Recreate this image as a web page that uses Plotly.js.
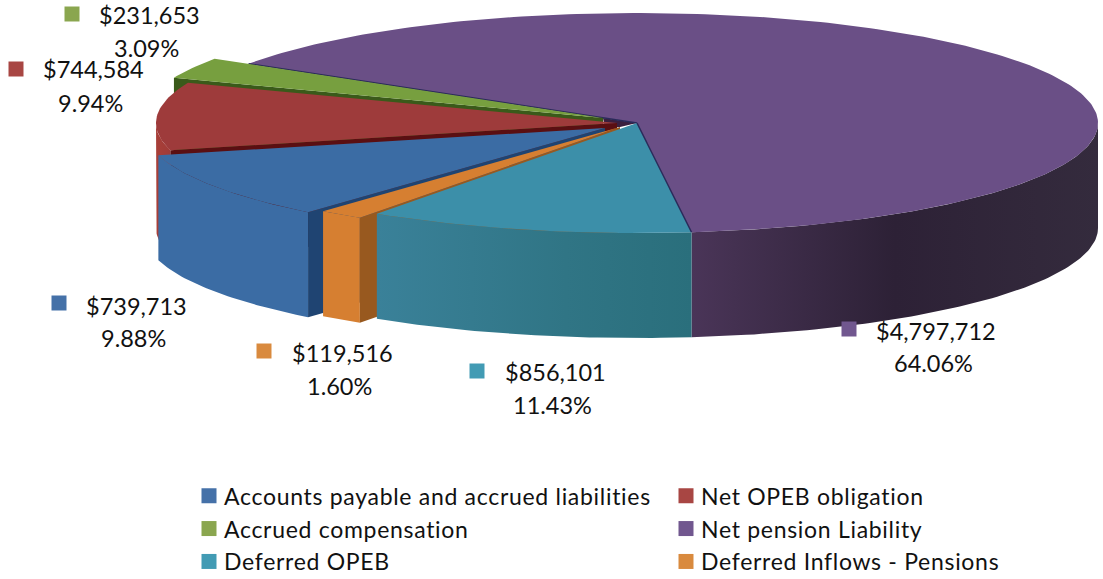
<!DOCTYPE html>
<html>
<head>
<meta charset="utf-8">
<script src="https://cdn.plot.ly/plotly-3.0.1.min.js"></script>
<style>
html,body{margin:0;padding:0;background:#fff}#chart{width:1103px;height:579px}
.legendtext,.legend2text{letter-spacing:0.7px;transform:translateX(-5px)}
</style>
</head>
<body>
<div id="chart"></div>
<script>
// ---- data (clockwise from the first slice) ----
const categories = ['Accounts payable and accrued liabilities','Net OPEB obligation','Accrued compensation','Net pension Liability','Deferred OPEB','Deferred Inflows - Pensions'];
const values = [739713, 744584, 231653, 4797712, 856101, 119516];
const amountLabels = ['$739,713','$744,584','$231,653','$4,797,712','$856,101','$119,516'];
const percentLabels = ['9.88%','9.94%','3.09%','64.06%','11.43%','1.60%'];

// ---- style / layout ----
const topColors  = ['#3b6ca4','#9e3b3b','#779f3f','#6a4f86','#3c8fa9','#d67f31'];
const keyColors  = ['#4571a8','#a84643','#8aa64f','#71578f','#429bb4','#d98a3e'];
const faceColors = ['#1f4472','#5a0f12','#3a5a1a','#2a2a5a','#2c6b7d','#98591f'];
const wallScales = [
  [[0,'#3b6ca4'],[1,'#3b6ca4']],
  [[0,'#a83f38'],[1,'#a03b38']],
  [[0,'#5a7a2a'],[1,'#5a7a2a']],
  [[0,'#4a3558'],[0.5,'#2d2136'],[1,'#342b3d']],
  [[0,'#3a8199'],[0.6,'#307585'],[1,'#2a6f7c']],
  [[0,'#d67f31'],[1,'#d67f31']]
];
const centers = [[605,128],[617,123],[603,118],[637,123],[637,123],[620,127]];
const hub = [[603,118],[637,123],[620,127],[605,128]];
const drawOrder = [3,2,1,0,5,4];
const legendOf = ['legend','legend2','legend','legend2','legend','legend2'];
const RX = 461, RY = 110, DEPTH = 105, START = 220.1;
const keyPos     = [[59,303],[16,69],[72,14],[849,329],[477,371],[264,351]];
const amountPos  = [[136,306],[93,69],[149,15],[936,331],[555,372],[342,353]];
const percentPos = [[133,338],[90,103],[146,48],[933,363],[552,405],[339,386]];
const FONT = 'Lato, "Open Sans", sans-serif';

// ---- slice angles from the values ----
const total = values.reduce((a,b)=>a+b,0);
let acc = START;
const spans = values.map(v=>{const a=acc; acc+=v/total*360; return [a,acc];});
const rimPt = (c,deg,drop=0)=>{const r=deg*Math.PI/180;return [c[0]+RX*Math.sin(r), c[1]-RY*Math.cos(r)+drop];};
const arc = (c,a,b,drop=0)=>{const pts=[];const n=Math.max(2,Math.ceil(Math.abs(b-a)));for(let i=0;i<=n;i++)pts.push(rimPt(c,a+(b-a)*i/n,drop));return pts;};

const traces = [];
function poly(pts, color, scale){
  const t = {type:'scatter',mode:'lines',x:pts.map(p=>p[0]),y:pts.map(p=>p[1]),fill:'toself',
    line:{width:0,color:color},fillcolor:color,hoverinfo:'skip',showlegend:false};
  if(scale) t.fillgradient = {type:'horizontal',colorscale:scale};
  traces.push(t);
}
// central hub behind the separated slice points
poly(hub,'#3a1f3f');

drawOrder.forEach(i=>{
  const c=centers[i]; const [a,b]=spans[i];
  // outer wall: only the part of the rim facing the viewer
  const w0=Math.max(a, a>270?450:90), w1=Math.min(b, a>270?630:270);
  if(w1>w0){
    const up=arc(c,w0,w1), down=arc(c,w1,w0,DEPTH);
    poly(up.concat(down), wallScales[i][0][1], wallScales[i]);
  }
  // cut face on the clockwise-start side, seen from the front
  if(i!==3 && i!==4){
    const r=rimPt(c,a), rd=rimPt(c,a,DEPTH);
    poly([r,c,[c[0],c[1]+DEPTH],rd], faceColors[i]);
  }
  // top
  const rim=arc(c,a,b);
  poly([c].concat(rim), topColors[i]);
  if(i===3 || i===4){
    traces.push({type:'scatter',mode:'lines',x:[rimPt(c,a)[0],c[0]],y:[rimPt(c,a)[1],c[1]],
      line:{width:1.5,color:faceColors[3]},hoverinfo:'skip',showlegend:false});
  }
});

// key squares beside the data labels; these also feed the two legend columns
categories.forEach((name,i)=>{
  traces.push({type:'scatter',mode:'markers',name:name,legend:legendOf[i],x:[keyPos[i][0]],y:[keyPos[i][1]],
    marker:{symbol:'square',size:15,color:keyColors[i]},hoverinfo:'name',showlegend:true});
});

const labelNote = (text,pos)=>({xref:'x',yref:'y',x:pos[0],y:pos[1],showarrow:false,align:'center',
  text:text,font:{family:FONT,size:23.5,color:'#111'}});
const annotations = [
  ...amountLabels.map((t,i)=>labelNote(t,amountPos[i])),
  ...percentLabels.map((t,i)=>labelNote(t,percentPos[i]))
];

const legendBase = {orientation:'v',y:0.181,xanchor:'left',yanchor:'top',
  font:{family:FONT,size:23,color:'#111'},bgcolor:'rgba(0,0,0,0)',traceorder:'normal'};

const layout = {
  width:1103,height:579,margin:{l:0,r:0,t:0,b:0,autoexpand:false},paper_bgcolor:'#fff',plot_bgcolor:'#fff',
  xaxis:{range:[0,1103],visible:false,fixedrange:true},
  yaxis:{range:[579,0],visible:false,fixedrange:true},
  showlegend:true,
  legend:Object.assign({},legendBase,{x:189/1103}),
  legend2:Object.assign({},legendBase,{x:666/1103}),
  annotations:annotations
};
Plotly.newPlot('chart',traces,layout,{displayModeBar:false,staticPlot:true});
</script>
</body>
</html>
